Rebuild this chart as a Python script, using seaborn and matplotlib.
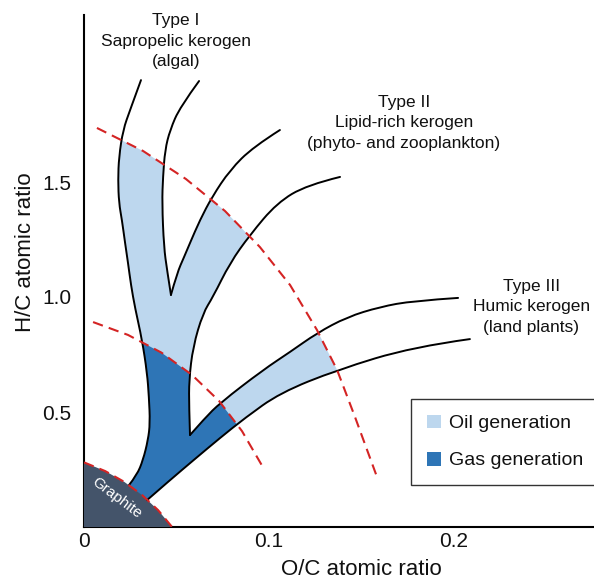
import numpy as np
import matplotlib
matplotlib.use("Agg")
import matplotlib.pyplot as plt
from matplotlib.path import Path
from matplotlib.patches import PathPatch, Polygon, Patch
import seaborn as sns

# Kerogen evolution paths, traced as (O/C, H/C) points
TYPE1_OUTER_X = [0.0308, 0.0249, 0.0211, 0.0189, 0.0184, 0.0189, 0.0205, 0.0222, 0.0238,
                 0.0254, 0.0276, 0.0314, 0.0341, 0.0351, 0.0357, 0.0346, 0.0319, 0.0286, 0.0243]
TYPE1_OUTER_Y = [1.943, 1.813, 1.726, 1.609, 1.509, 1.409, 1.335, 1.235, 1.148,
                 1.052, 0.952, 0.813, 0.670, 0.565, 0.452, 0.378, 0.291, 0.226, 0.182]
TYPE1_INNER_X = [0.0470, 0.0449, 0.0432, 0.0422, 0.0427, 0.0438, 0.0465, 0.0519, 0.0622]
TYPE1_INNER_Y = [1.009, 1.117, 1.217, 1.409, 1.522, 1.639, 1.726, 1.826, 1.939]
TYPE2_INNER_X = [0.0470, 0.0503, 0.0541, 0.0573, 0.0627, 0.0692, 0.0789, 0.0914, 0.1059]
TYPE2_INNER_Y = [1.009, 1.104, 1.174, 1.235, 1.335, 1.435, 1.552, 1.652, 1.726]
TYPE2_OUTER_X = [0.0573, 0.0568, 0.0568, 0.0589, 0.0643, 0.0697, 0.0789, 0.0897, 0.1043, 0.1205, 0.1384]
TYPE2_OUTER_Y = [0.400, 0.522, 0.639, 0.783, 0.930, 1.000, 1.148, 1.270, 1.409, 1.487, 1.522]
TYPE3_UPPER_X = [0.0573, 0.0654, 0.0735, 0.0968, 0.1114, 0.1259, 0.1422, 0.1600, 0.1778, 0.2022]
TYPE3_UPPER_Y = [0.400, 0.474, 0.539, 0.683, 0.761, 0.843, 0.913, 0.957, 0.983, 0.996]
TYPE3_LOWER_X = [0.0341, 0.0465, 0.0600, 0.0735, 0.0870, 0.1059, 0.1368, 0.1778, 0.2086]
TYPE3_LOWER_Y = [0.117, 0.204, 0.296, 0.387, 0.474, 0.583, 0.683, 0.783, 0.817]

# Maturity limits (dashed)
OIL_LIMIT_X = [0.0070, 0.0319, 0.0551, 0.0762, 0.0951, 0.1114, 0.1259, 0.1368, 0.1465, 0.1584]
OIL_LIMIT_Y = [1.735, 1.635, 1.513, 1.374, 1.217, 1.052, 0.857, 0.683, 0.478, 0.217]
GAS_LIMIT_X = [0.0049, 0.0238, 0.0419, 0.0584, 0.0730, 0.0854, 0.0968]
GAS_LIMIT_Y = [0.891, 0.835, 0.758, 0.661, 0.548, 0.417, 0.259]
GRAPHITE_X = [0.0, 0.0115, 0.0218, 0.0314, 0.0401, 0.0476]
GRAPHITE_Y = [0.281, 0.243, 0.196, 0.139, 0.073, 0.0]

X_TICKS = [0.0, 0.1, 0.2]
X_TICK_LABELS = ["0", "0.1", "0.2"]
Y_TICKS = [0.5, 1.0, 1.5]
Y_TICK_LABELS = ["0.5", "1.0", "1.5"]

TYPE_LABELS = ["Type I\nSapropelic kerogen\n(algal)",
               "Type II\nLipid-rich kerogen\n(phyto- and zooplankton)",
               "Type III\nHumic kerogen\n(land plants)"]
TYPE_LABEL_X = [0.0497, 0.173, 0.2418]
TYPE_LABEL_Y = [2.113, 1.757, 0.957]

OIL_COLOR = "#bdd7ee"
GAS_COLOR = "#2e75b6"
GRAPHITE_COLOR = "#44546a"
LIMIT_COLOR = "#d42424"
TEXT_COLOR = "#111111"

sns.set_theme(style="white")
plt.rcParams["font.family"] = ["Liberation Sans", "DejaVu Sans"]


def smooth_segments(xs, ys):
    """Quadratic Bezier path through a traced polyline (midpoint scheme)."""
    p = np.column_stack([xs, ys]).astype(float)
    n = len(p)
    verts = [p[0]]
    codes = [Path.MOVETO]
    for i in range(1, n - 2):
        verts += [p[i], (p[i] + p[i + 1]) / 2]
        codes += [Path.CURVE3, Path.CURVE3]
    verts += [p[n - 2], p[n - 1]]
    codes += [Path.CURVE3, Path.CURVE3]
    return verts, codes


fig = plt.figure(figsize=(5.94, 5.83), dpi=100)
ax = fig.add_axes([84 / 594, 56 / 583, 555 / 594, 512 / 583])
ax.set_xlim(0, 0.3)
ax.set_ylim(0, 512 / 230)

# Outline of the three kerogen bands as one closed region
pieces = [
    (TYPE1_OUTER_X, TYPE1_OUTER_Y),
    (TYPE3_LOWER_X, TYPE3_LOWER_Y),
    (TYPE3_UPPER_X[::-1], TYPE3_UPPER_Y[::-1]),
    (TYPE2_OUTER_X, TYPE2_OUTER_Y),
    (TYPE2_INNER_X[::-1], TYPE2_INNER_Y[::-1]),
    (TYPE1_INNER_X, TYPE1_INNER_Y),
]
verts, codes = [], []
for xs, ys in pieces:
    v, c = smooth_segments(xs, ys)
    if verts:
        c[0] = Path.LINETO
    verts += v
    codes += c
verts.append(verts[0])
codes.append(Path.CLOSEPOLY)
band_path = Path(verts, codes)

oil_region = Polygon(list(zip(OIL_LIMIT_X, OIL_LIMIT_Y))
                     + [(OIL_LIMIT_X[-1], -1), (-1, -1), (-1, OIL_LIMIT_Y[0])],
                     closed=True, transform=ax.transData)
gas_region = Polygon(list(zip(GAS_LIMIT_X, GAS_LIMIT_Y))
                     + [(GAS_LIMIT_X[-1], -1), (-1, -1), (-1, GAS_LIMIT_Y[0])],
                     closed=True, transform=ax.transData)

oil_patch = PathPatch(band_path, facecolor=OIL_COLOR, edgecolor="none", zorder=1)
ax.add_patch(oil_patch)
oil_patch.set_clip_path(oil_region)

gas_patch = PathPatch(band_path, facecolor=GAS_COLOR, edgecolor="none", zorder=2)
ax.add_patch(gas_patch)
gas_patch.set_clip_path(gas_region)

# Graphite corner
ax.fill(GRAPHITE_X + [0.0], GRAPHITE_Y + [0.0], color=GRAPHITE_COLOR, lw=0, zorder=3)

# Black evolution-path boundaries
for xs, ys in [(TYPE1_OUTER_X, TYPE1_OUTER_Y), (TYPE1_INNER_X, TYPE1_INNER_Y),
               (TYPE2_INNER_X, TYPE2_INNER_Y), (TYPE2_OUTER_X, TYPE2_OUTER_Y),
               (TYPE3_UPPER_X, TYPE3_UPPER_Y), (TYPE3_LOWER_X, TYPE3_LOWER_Y)]:
    v, c = smooth_segments(xs, ys)
    ax.add_patch(PathPatch(Path(v, c), fill=False, edgecolor="black", lw=1.4,
                           capstyle="round", joinstyle="round", zorder=4))

# Dashed oil / gas / graphite limits
for xs, ys in [(OIL_LIMIT_X, OIL_LIMIT_Y), (GAS_LIMIT_X, GAS_LIMIT_Y), (GRAPHITE_X, GRAPHITE_Y)]:
    sns.lineplot(x=xs, y=ys, sort=False, estimator=None, ax=ax, color=LIMIT_COLOR,
                 lw=1.5, linestyle=(0, (5.0, 3.0)), zorder=5)

ax.text(0.0178, 0.126, "Graphite", rotation=-37, rotation_mode="anchor",
        ha="center", va="center", color="white", fontsize=11, zorder=6)

for label, tx, ty in zip(TYPE_LABELS, TYPE_LABEL_X, TYPE_LABEL_Y):
    ax.text(tx, ty, label, ha="center", va="center", multialignment="center",
            fontsize=12.5, linespacing=1.45, color=TEXT_COLOR, zorder=6)

# Axes styling
sns.despine(ax=ax)
for side in ("left", "bottom"):
    ax.spines[side].set_color("black")
    ax.spines[side].set_linewidth(1.5)
ax.set_xticks(X_TICKS)
ax.set_xticklabels(X_TICK_LABELS)
ax.set_yticks(Y_TICKS)
ax.set_yticklabels(Y_TICK_LABELS)
ax.tick_params(direction="in", length=11, width=1.5, color="black",
               labelsize=15, labelcolor=TEXT_COLOR)
ax.tick_params(axis="x", pad=3.5)
ax.tick_params(axis="y", pad=9)

ax.set_xlabel("O/C atomic ratio", fontsize=16, color=TEXT_COLOR)
ax.set_ylabel("H/C atomic ratio", fontsize=16, color=TEXT_COLOR)
ax.xaxis.set_label_coords(0.5, -0.0625)
ax.yaxis.set_label_coords(-0.0865, 0.537)

handles = [Patch(facecolor=OIL_COLOR, edgecolor="none", label="Oil generation"),
           Patch(facecolor=GAS_COLOR, edgecolor="none", label="Gas generation")]
leg = ax.legend(handles=handles, loc="upper left",
                bbox_to_anchor=(411 / 594, 1 - 399 / 583), bbox_transform=fig.transFigure,
                fontsize=14, frameon=True, fancybox=False, framealpha=1,
                borderpad=0.8, borderaxespad=0, handlelength=0.72, handleheight=0.72,
                handletextpad=0.42, labelspacing=1.0, labelcolor=TEXT_COLOR)
leg.get_frame().set_edgecolor("#333333")
leg.get_frame().set_linewidth(1.0)

fig.savefig("out.png", dpi=100)
